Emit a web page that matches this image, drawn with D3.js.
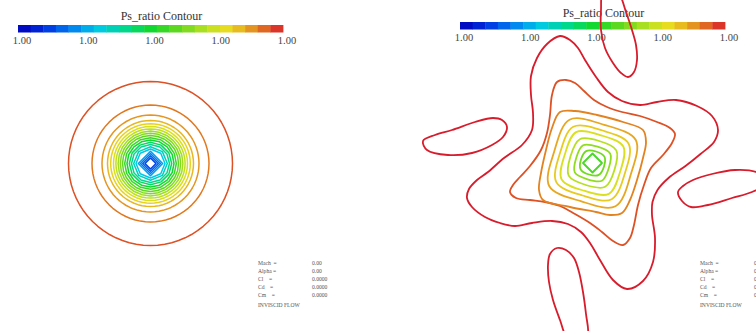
<!DOCTYPE html>
<html>
<head>
<meta charset="utf-8">
<script src="https://cdn.jsdelivr.net/npm/d3@7"></script>
<style>
  html, body { margin: 0; padding: 0; background: #ffffff; }
  svg { display: block; }
  text { font-family: "Liberation Serif", "Times New Roman", serif; }
</style>
</head>
<body>
<svg id="chart" width="756" height="331"></svg>
<script>
// ---------------- data ----------------
const colorbarTitle = "Ps_ratio Contour";
const colorbarTicks = ["1.00", "1.00", "1.00", "1.00", "1.00"];
const colorbarBlocks = 21;

// Ps_ratio colour map (position along the bar -> colour)
const colormapStops  = [0.00, 0.10, 0.20, 0.30, 0.40, 0.50, 0.60, 0.70, 0.78, 0.85, 0.92, 1.00];
const colormapColors = ["#0000b8", "#0030e0", "#0080f0", "#00c8e8", "#00d890", "#10d830",
                        "#60d820", "#b0e020", "#e8e020", "#e8b020", "#e07020", "#d81c2c"];

// Panel A: axisymmetric case, contour radius (grid units), level and polygon resolution
const ringRadius = [8.2, 5.85, 4.85, 4.3, 3.98, 3.7, 3.46, 3.24, 3.02, 2.8, 2.58, 2.35, 2.12, 1.9, 1.68, 1.45, 1.22, 1.0, 0.78, 0.55];
const ringLevel  = [0.95, 0.91, 0.88, 0.84, 0.8, 0.76, 0.72, 0.68, 0.64, 0.6, 0.55, 0.5, 0.45, 0.4, 0.35, 0.3, 0.24, 0.2, 0.16, 0.12];
const ringSides  = [72, 72, 72, 64, 64, 48, 48, 24, 24, 24, 16, 16, 12, 12, 8, 8, 4, 4, 4, 4];

// Panel B: four-lobed case, contour polylines (x, y in grid units)
const starOuter = [[-3.25,12.7],[-2.25,12.3],[-1.45,11.5],[-0.75,10.3],[0.35,8.6],[1.55,7.1],[2.95,6.2],[4.75,5.8],
  [6.45,6.1],[8.35,6.3],[10.45,5.7],[11.95,4.7],[12.55,3.3],[12.15,2.1],[10.8,0.9],[9.3,-0.3],[7.6,-1.5],[6.5,-2.7],
  [6.0,-3.9],[5.95,-5.2],[6.25,-7.5],[6.05,-9.9],[5.05,-11.8],[3.45,-12.6],[2.05,-11.7],[0.75,-9.7],[-0.25,-8.0],
  [-1.15,-6.9],[-2.45,-6.1],[-4.05,-5.8],[-6.05,-6.0],[-7.75,-6.3],[-9.25,-6.0],[-10.75,-5.4],[-12.05,-4.4],
  [-12.55,-3.5],[-12.35,-2.6],[-11.55,-1.7],[-10.45,-0.9],[-8.85,0.5],[-7.05,1.8],[-6.05,3.3],[-5.95,5.0],
  [-6.15,6.8],[-6.15,8.7],[-5.55,10.5],[-4.55,11.9]];
const starSecond = [[-3.55,8.1],[-2.65,8.3],[-1.75,8.0],[-0.85,7.2],[0.15,6.3],[1.45,5.6],[2.95,5.1],[4.75,4.7],
  [6.45,4.1],[7.75,3.5],[8.25,2.9],[7.95,2.0],[7.05,0.8],[5.85,-0.5],[5.15,-2.2],[4.55,-4.2],[4.15,-6.2],[3.75,-7.5],
  [3.05,-8.2],[2.05,-7.8],[0.95,-6.9],[-0.25,-6.0],[-1.75,-5.1],[-3.25,-4.3],[-4.75,-3.9],[-6.25,-3.7],[-7.65,-3.5],
  [-8.25,-2.9],[-7.95,-2.2],[-7.25,-1.4],[-6.25,-0.3],[-5.15,1.3],[-4.55,3.0],[-4.25,4.8],[-4.05,6.8]];
const starThird = [[-3.25,5.1],[-1.75,5.2],[0.45,4.8],[3.05,4.1],[5.05,3.3],[5.35,2.1],[5.05,0.5],[4.45,-1.7],
  [3.75,-3.7],[2.95,-5.0],[1.75,-5.2],[0.35,-4.9],[-2.25,-4.4],[-4.95,-3.7],[-5.35,-2.7],[-5.15,-1.0],[-4.65,1.3],[-4.05,3.5]];
const core4 = [[-2.30,4.33],[1.17,3.82],[4.33,2.30],[3.82,-1.17],[2.30,-4.33],[-1.17,-3.82],[-4.33,-2.30],[-3.82,1.17]];
const core5 = [[-1.92,3.62],[0.99,3.25],[3.62,1.92],[3.25,-0.99],[1.92,-3.62],[-0.99,-3.25],[-3.62,-1.92],[-3.25,0.99]];
const core6 = [[-1.64,3.09],[0.85,2.77],[3.09,1.64],[2.77,-0.85],[1.64,-3.09],[-0.85,-2.77],[-3.09,-1.64],[-2.77,0.85]];
const core7 = [[-1.27,2.38],[0.67,2.20],[2.38,1.27],[2.20,-0.67],[1.27,-2.38],[-0.67,-2.20],[-2.38,-1.27],[-2.20,0.67]];
const core8 = [[-0.94,1.77],[0.50,1.63],[1.77,0.94],[1.63,-0.50],[0.94,-1.77],[-0.50,-1.63],[-1.77,-0.94],[-1.63,0.50]];
const core9 = [[-0.63,1.19],[0.35,1.15],[1.19,0.63],[1.15,-0.35],[0.63,-1.19],[-0.35,-1.15],[-1.19,-0.63],[-1.15,0.35]];
const coreDiamond = [[0,0.95],[0.95,0],[0,-0.95],[-0.95,0]];
const lobeTop = [[1.05,17.3],[0.85,15.3],[0.85,13.3],[1.25,11.5],[2.05,10.0],[2.85,9.0],[3.55,8.6],[4.15,9.1],
  [4.45,10.3],[4.35,11.8],[3.95,13.3],[3.35,15.1],[2.75,16.8],[1.95,17.8]];
const lobeLeft = [[-16.95,2.2],[-16.55,1.3],[-14.45,0.8],[-12.05,1.0],[-10.05,1.8],[-8.95,2.6],[-8.55,3.6],
  [-9.05,4.3],[-9.95,4.5],[-11.75,4.1],[-14.05,3.3],[-15.75,2.8]];
const lobeRight = [[8.55,-2.9],[8.95,-3.8],[9.85,-4.4],[11.55,-4.2],[13.95,-3.5],[15.95,-2.9],[16.95,-2.3],
  [17.15,-1.5],[16.35,-0.9],[14.25,-0.7],[11.95,-1.1],[10.05,-1.7],[9.05,-2.3]];
const lobeBottom = [[-3.55,-8.5],[-2.65,-8.7],[-1.85,-9.5],[-1.35,-10.9],[-0.95,-12.9],[-0.65,-15.1],[-0.45,-17.2],
  [-1.05,-18.5],[-2.45,-17.7],[-3.25,-15.7],[-3.95,-13.7],[-4.35,-11.9],[-4.45,-10.2],[-4.25,-9.1]];

const starContours = [lobeTop, lobeLeft, lobeRight, lobeBottom, starOuter, starSecond, starThird,
                      core4, core5, core6, core7, core8, core9, coreDiamond];
const starLevels   = [1.0, 1.0, 1.0, 1.0, 1.0, 0.95, 0.9, 0.86, 0.81, 0.76, 0.71, 0.66, 0.62, 0.57];

// Flow condition summary
const infoLabels = ["Mach  =", "Alpha =", "Cl    =", "Cd    =", "Cm    ="];
const infoValues = ["0.00", "0.00", "0.0000", "0.0000", "0.0000"];
const infoFooter = "INVISCID FLOW";

// ---------------- drawing ----------------
const svg = d3.select("#chart");
const colormap = d3.scaleLinear()
  .domain(colormapStops)
  .range(colormapColors)
  .interpolate(d3.interpolateRgb)
  .clamp(true);

const panels = [
  { cx: 150.5, cy: 163.5, barX: [18, 283], barY: 25, titleY: 19.5, tickY: 44, infoX: 258 },
  { cx: 592.5, cy: 163,   barX: [460, 725], barY: 22, titleY: 17,  tickY: 41, infoX: 700 }
];
const unitPx = 10;

function panelScales(p) {
  const x = d3.scaleLinear().domain([-1, 1]).range([p.cx - unitPx, p.cx + unitPx]);
  const y = d3.scaleLinear().domain([-1, 1]).range([p.cy + unitPx, p.cy - unitPx]);
  return { x, y };
}

function drawColorbar(g, p) {
  const band = d3.scaleBand().domain(d3.range(colorbarBlocks)).range(p.barX);
  g.selectAll("rect.cb").data(d3.range(colorbarBlocks)).join("rect")
    .attr("class", "cb")
    .attr("x", d => band(d))
    .attr("y", p.barY)
    .attr("width", band.bandwidth() + 0.4)
    .attr("height", 7.5)
    .attr("fill", d => colormap((d + 0.5) / colorbarBlocks));

  g.append("text")
    .attr("x", (p.barX[0] + p.barX[1]) / 2 + 11)
    .attr("y", p.titleY)
    .attr("text-anchor", "middle")
    .attr("font-size", 12)
    .attr("fill", "#333")
    .text(colorbarTitle);

  const tick = d3.scalePoint().domain(d3.range(colorbarTicks.length)).range(p.barX);
  g.selectAll("text.tick").data(colorbarTicks).join("text")
    .attr("class", "tick")
    .attr("x", (d, i) => tick(i) + 4)
    .attr("y", p.tickY)
    .attr("text-anchor", "middle")
    .attr("font-size", 10.5)
    .attr("fill", "#444")
    .text(d => d);
}

function drawInfo(g, p) {
  const row = d3.scalePoint().domain(d3.range(infoLabels.length)).range([264.5, 296.5]);
  g.selectAll("text.lab").data(infoLabels).join("text")
    .attr("class", "lab")
    .attr("x", p.infoX).attr("y", (d, i) => row(i))
    .attr("font-size", 5.6).attr("fill", "#555")
    .style("white-space", "pre")
    .text(d => d);
  g.selectAll("text.val").data(infoValues).join("text")
    .attr("class", "val")
    .attr("x", p.infoX + 54).attr("y", (d, i) => row(i))
    .attr("font-size", 5.6).attr("fill", "#555")
    .text(d => d);
  g.append("text")
    .attr("x", p.infoX).attr("y", 307)
    .attr("font-size", 5.6).attr("fill", "#555")
    .text(infoFooter);
}

// Panel A
{
  const p = panels[0];
  const g = svg.append("g");
  const r = d3.scaleLinear().domain([0, 1]).range([0, unitPx]);
  const ring = (rad, n) => d3.lineRadial()
      .angle(k => k * 2 * Math.PI / n)
      .radius(() => r(rad))
      .curve(d3.curveLinearClosed)(d3.range(n));
  g.append("g").attr("transform", `translate(${p.cx},${p.cy})`)
    .selectAll("path").data(ringRadius).join("path")
    .attr("d", (d, i) => ring(d, ringSides[i]))
    .attr("fill", "none")
    .attr("stroke", (d, i) => colormap(ringLevel[i]))
    .attr("stroke-width", 1.5)
    .attr("stroke-linejoin", "round");
  drawColorbar(g, p);
  drawInfo(g, p);
}

// Panel B
{
  const p = panels[1];
  const g = svg.append("g");
  const { x, y } = panelScales(p);
  drawColorbar(g, p);
  const smooth = d3.line().x(d => x(d[0])).y(d => y(d[1])).curve(d3.curveCatmullRomClosed.alpha(0.5));
  const sharp = d3.line().x(d => x(d[0])).y(d => y(d[1])).curve(d3.curveLinearClosed);
  g.selectAll("path.ct").data(starContours).join("path")
    .attr("class", "ct")
    .attr("d", d => (d.length === 4 ? sharp : smooth)(d))
    .attr("fill", "none")
    .attr("stroke", (d, i) => colormap(starLevels[i]))
    .attr("stroke-width", 1.8)
    .attr("stroke-linejoin", "round");
  drawInfo(g, p);
}
</script>
</body>
</html>
